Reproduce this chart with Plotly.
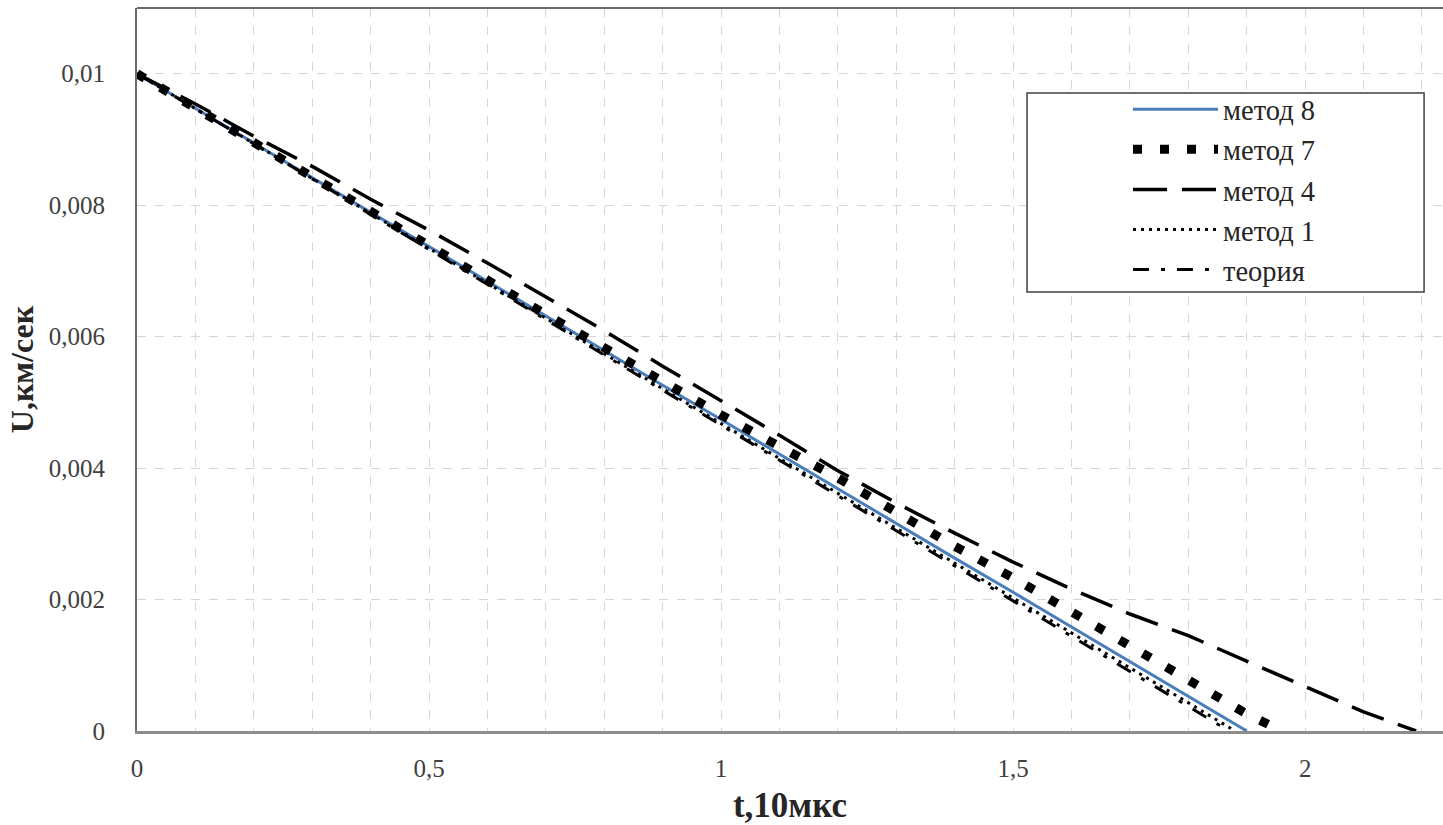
import plotly.graph_objects as go

# ---- data ----
t_m8 = [0.0, 0.1, 0.2, 0.3, 0.4, 0.5, 0.6, 0.7, 0.8, 0.9, 1.0, 1.1, 1.2, 1.3, 1.4, 1.5, 1.6, 1.7, 1.8, 1.9]
u_m8 = [0.0100, 0.00947, 0.00895, 0.00842, 0.00789, 0.00737, 0.00684, 0.00632, 0.00579, 0.00526,
        0.00474, 0.00421, 0.00368, 0.00316, 0.00263, 0.00211, 0.00158, 0.00105, 0.00053, 0.0]

t_m7 = [0.0, 0.1, 0.2, 0.3, 0.4, 0.5, 0.6, 0.7, 0.8, 0.9, 1.0, 1.1, 1.2, 1.3, 1.4, 1.5, 1.6, 1.7, 1.8, 1.9, 1.96]
u_m7 = [0.0100, 0.00947, 0.00895, 0.00842, 0.00790, 0.00737, 0.00686, 0.00634, 0.00582, 0.00531,
        0.00481, 0.00433, 0.00385, 0.00333, 0.00281, 0.00233, 0.00181, 0.00129, 0.00078, 0.00026, 0.0]

t_m4 = [0.0, 0.1, 0.2, 0.3, 0.4, 0.5, 0.6, 0.7, 0.8, 0.9, 1.0, 1.1, 1.2, 1.3, 1.4, 1.5, 1.6, 1.7,
        1.8, 1.9, 2.0, 2.1, 2.19]
u_m4 = [0.0100, 0.00954, 0.00905, 0.00859, 0.00809, 0.00762, 0.00712, 0.00660, 0.00609, 0.00555,
        0.00503, 0.00450, 0.00396, 0.00347, 0.00301, 0.00257, 0.00216, 0.00178, 0.00145, 0.00106,
        0.00067, 0.00029, 0.0]

t_m1 = [0.0, 0.1, 0.2, 0.3, 0.4, 0.5, 0.6, 0.7, 0.8, 0.9, 1.0, 1.1, 1.2, 1.3, 1.4, 1.5, 1.6, 1.7, 1.8, 1.88]
u_m1 = [0.0100, 0.00947, 0.00894, 0.00840, 0.00787, 0.00734, 0.00681, 0.00628, 0.00574, 0.00521,
        0.00468, 0.00415, 0.00362, 0.00309, 0.00255, 0.00202, 0.00149, 0.00096, 0.00043, 0.0]

t_th = [0.0, 0.1, 0.2, 0.3, 0.4, 0.5, 0.6, 0.7, 0.8, 0.9, 1.0, 1.1, 1.2, 1.3, 1.4, 1.5, 1.6, 1.7, 1.8, 1.87]
u_th = [0.0100, 0.00947, 0.00893, 0.00840, 0.00786, 0.00733, 0.00679, 0.00626, 0.00572, 0.00519,
        0.00465, 0.00412, 0.00358, 0.00305, 0.00251, 0.00198, 0.00144, 0.00091, 0.00037, 0.0]

names = ["метод 8", "метод 7", "метод 4", "метод 1", "теория"]
x_title = "t,10мкс"
y_title = "U,км/сек"

SERIF = "Liberation Serif, Times New Roman, serif"

fig = go.Figure()
fig.add_trace(go.Scatter(x=t_m8, y=u_m8, name=names[0], mode="lines",
                         line=dict(color="#4a7ebb", width=3)))
fig.add_trace(go.Scatter(x=t_m7, y=u_m7, name=names[1], mode="lines",
                         line=dict(color="black", width=9, dash="9px,18px")))
fig.add_trace(go.Scatter(x=t_m4, y=u_m4, name=names[2], mode="lines",
                         line=dict(color="black", width=3.5, dash="34px,15px")))
fig.add_trace(go.Scatter(x=t_m1, y=u_m1, name=names[3], mode="lines",
                         line=dict(color="black", width=3, dash="3px,5px")))
fig.add_trace(go.Scatter(x=t_th, y=u_th, name=names[4], mode="lines",
                         line=dict(color="black", width=3, dash="16px,12px,4px,12px")))

grid_v = "#ddd8c2"
grid_h = "#d6d6d6"

fig.update_layout(
    width=1443, height=825,
    margin=dict(l=137, r=0, t=8, b=94),
    paper_bgcolor="white", plot_bgcolor="white",
    separators=", ",
    font=dict(family=SERIF, size=25, color="#404040"),
    xaxis=dict(
        range=[0, 2.236], tick0=0, dtick=0.5,
        showgrid=True, gridcolor=grid_v, griddash="dash", gridwidth=1,
        minor=dict(dtick=0.1, showgrid=True, gridcolor=grid_v, griddash="dash", gridwidth=1),
        showline=True, linecolor="#8c8c8c", linewidth=3,
        zeroline=False, ticks="", ticklabelstandoff=13,
        title=dict(text="<b>" + x_title + "</b>", standoff=12,
                   font=dict(family=SERIF, size=35, color="#262626")),
    ),
    yaxis=dict(
        range=[0, 0.011], tick0=0, dtick=0.002,
        showgrid=True, gridcolor=grid_h, griddash="dash", gridwidth=1,
        showline=True, linecolor="#6a6a6a", linewidth=2,
        zeroline=False, ticks="", ticklabelstandoff=25,
        title=dict(text="<b>" + y_title + "</b>", standoff=6,
                   font=dict(family=SERIF, size=32, color="#262626")),
    ),
    legend=dict(
        x=0.7588, y=0.8945, xanchor="left", yanchor="top",
        borderwidth=0, bgcolor="rgba(0,0,0,0)",
        font=dict(family=SERIF, size=28.5, color="#262626"),
        itemwidth=85, tracegroupgap=0,
    ),
    shapes=[
        dict(type="line", xref="paper", yref="paper", x0=0, x1=1, y0=1, y1=1,
             line=dict(color="#6a6a6a", width=2)),
        dict(type="rect", xref="paper", yref="paper", x0=0.6815, x1=0.9855, y0=0.6072, y1=0.8824,
             line=dict(color="#404040", width=1.5), fillcolor="white", layer="above"),
    ],
)

fig.write_html("out.html")
